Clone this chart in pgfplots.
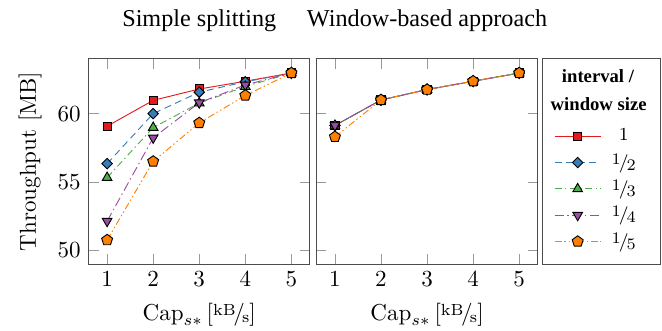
\documentclass[border=0pt]{standalone}
\usepackage{fontspec}
\usepackage{pgfplots}
\pgfplotsset{compat=1.18}
\usepgfplotslibrary{groupplots}
\newfontfamily\timesfont{Liberation Serif}
\definecolor{c1}{HTML}{E41A1C}
\definecolor{c2}{HTML}{377EB8}
\definecolor{c3}{HTML}{4DAF4A}
\definecolor{c4}{HTML}{984EA3}
\definecolor{c5}{HTML}{FF7F00}
\newcommand{\ufrac}[2]{\raisebox{0.5ex}{\scriptsize #1}\kern-0.1em/\kern-0.12em\raisebox{-0.25ex}{\scriptsize #2}}
\pgfplotsset{
  s1/.style={c1, solid, mark=square*, mark size=1.8pt, mark options={solid, fill=c1, draw=black}},
  s2/.style={c2, dash pattern=on 3pt off 2pt, mark=square*, mark size=1.6pt, mark options={solid, rotate=45, fill=c2, draw=black}},
  s3/.style={c3, dash pattern=on 3pt off 1.5pt on 0.6pt off 1.5pt, mark=triangle*, mark size=2.4pt, mark options={solid, fill=c3, draw=black}},
  s4/.style={c4, dash pattern=on 4pt off 1.5pt on 0.6pt off 1.5pt, mark=triangle*, mark size=2.4pt, mark options={solid, rotate=180, fill=c4, draw=black}},
  s5/.style={c5, dash pattern=on 3pt off 1.2pt on 0.6pt off 1.2pt on 0.6pt off 1.2pt, mark=pentagon*, mark size=2.5pt, mark options={solid, fill=c5, draw=black}},
}
\begin{document}
\begin{tikzpicture}
\begin{groupplot}[
  group style={group size=2 by 1, horizontal sep=2.9pt, yticklabels at=edge left},
  width=96pt, height=89pt, scale only axis,
  xmin=0.6, xmax=5.4, ymin=49, ymax=64,
  xtick={1,2,3,4,5}, ytick={50,55,60},
  axis line style={black!70}, tick style={black!40},
  xlabel={$\mathrm{Cap}_{s*}$\,[\ufrac{kB}{s}]},
  legend image code/.code={\draw[mark repeat=2,mark phase=2] plot coordinates {(0cm,0cm) (0.35cm,0cm) (0.7cm,0cm)};},
]
\nextgroupplot[ylabel={Throughput [MB]}]
\addplot[s1] coordinates {(1,59.08) (2,60.97) (3,61.8) (4,62.37) (5,62.97)};
\addplot[s2] coordinates {(1,56.34) (2,60.0) (3,61.57) (4,62.33) (5,62.97)};
\addplot[s3] coordinates {(1,55.32) (2,58.98) (3,60.77) (4,61.98) (5,62.97)};
\addplot[s4] coordinates {(1,52.13) (2,58.23) (3,60.8) (4,62.1) (5,62.97)};
\addplot[s5] coordinates {(1,50.75) (2,56.5) (3,59.32) (4,61.33) (5,62.97)};
\nextgroupplot[
  legend style={at={(1.042,0.712)}, anchor=north west, draw=none, fill=none, font=\footnotesize,
    nodes={minimum height=11.43pt, inner sep=0pt, text width=19.6pt, align=center}, row sep=0pt}]
\addplot[s1] coordinates {(1,59.13) (2,61.0) (3,61.76) (4,62.37) (5,62.97)};
\addlegendentry{$1$}
\addplot[s2] coordinates {(1,59.13) (2,61.0) (3,61.76) (4,62.37) (5,62.97)};
\addlegendentry{\ufrac{1}{2}}
\addplot[s3] coordinates {(1,59.13) (2,61.0) (3,61.76) (4,62.37) (5,62.97)};
\addlegendentry{\ufrac{1}{3}}
\addplot[s4] coordinates {(1,59.13) (2,61.0) (3,61.76) (4,62.37) (5,62.97)};
\addlegendentry{\ufrac{1}{4}}
\addplot[s5] coordinates {(1,58.3) (2,61.0) (3,61.76) (4,62.37) (5,62.97)};
\addlegendentry{\ufrac{1}{5}}
\end{groupplot}
\node[anchor=base, font=\timesfont\fontsize{10.5}{12}\selectfont] at ([yshift=14pt]group c1r1.north) {Simple splitting};
\node[anchor=base, font=\timesfont\fontsize{10.5}{12}\selectfont] at ([yshift=14pt]group c2r1.north) {Window-based approach};
\draw[black!70] ([xshift=2.2pt]group c2r1.north east) rectangle ([xshift=53.4pt]group c2r1.south east);
\node[font=\timesfont\bfseries\fontsize{8.1}{10}\selectfont] at ([xshift=26.2pt,yshift=-7.4pt]group c2r1.north east) {interval /};
\node[font=\timesfont\bfseries\fontsize{8.1}{10}\selectfont] at ([xshift=26.5pt,yshift=-19.6pt]group c2r1.north east) {window size};
\pgfresetboundingbox
\path ([xshift=-38.5pt,yshift=-29.1pt]group c1r1.south west) rectangle ([xshift=54pt,yshift=25.6pt]group c2r1.north east);
\end{tikzpicture}
\end{document}
